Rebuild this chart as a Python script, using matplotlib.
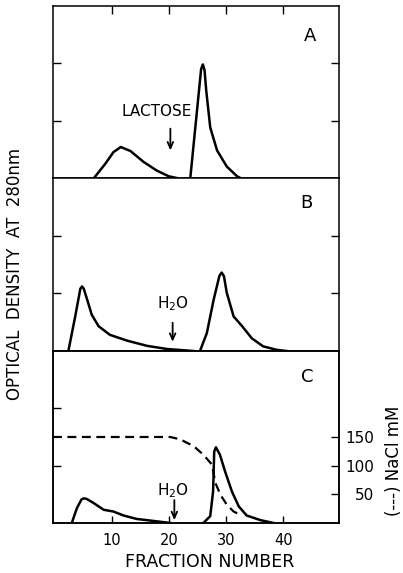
import matplotlib
matplotlib.use('Agg')
import matplotlib.pyplot as plt

plt.rcParams['font.family'] = ['DejaVu Sans']
plt.rcParams['mathtext.default'] = 'regular'

# panel A: lactose elution
a1_x = [6.8, 8.8, 10.2, 11.5, 13.2, 15.5, 17.8, 19.9, 21.3]
a1_y = [0, 0.25, 0.45, 0.54, 0.47, 0.28, 0.13, 0.03, 0]
a2_x = [23.7, 25.6, 25.9, 26.2, 26.5, 27.2, 28.4, 30.1, 31.9, 32.5]
a2_y = [0, 1.9, 1.98, 1.88, 1.52, 0.88, 0.48, 0.2, 0.03, 0]

# panel B: water elution
b1_x = [2.3, 3.5, 4.4, 4.7, 5.0, 5.6, 6.4, 7.6, 9.6, 12.6, 16.1, 19.6, 24.3]
b1_y = [0, 0.6, 1.08, 1.12, 1.08, 0.89, 0.63, 0.43, 0.28, 0.18, 0.09, 0.035, 0]
b2_x = [25.4, 26.6, 27.8, 28.8, 29.2, 29.6, 30.1, 31.3, 32.8, 34.5, 36.5, 38.9, 40.6]
b2_y = [0, 0.31, 0.89, 1.3, 1.36, 1.3, 1.01, 0.6, 0.43, 0.22, 0.08, 0.02, 0]

# panel C: water elution after NaCl
c1_x = [2.9, 3.8, 4.6, 5.0, 5.5, 6.7, 8.5, 10.2, 12.0, 14.3, 17.3, 20.2]
c1_y = [0, 0.26, 0.41, 0.43, 0.42, 0.35, 0.23, 0.2, 0.13, 0.07, 0.035, 0.0]
c2_x = [26.0, 27.2, 27.7, 27.9, 28.2, 28.9, 29.8, 31.0, 32.2, 33.6, 36.0, 38.3]
c2_y = [0, 0.12, 0.55, 1.25, 1.32, 1.19, 0.9, 0.55, 0.29, 0.13, 0.05, 0]
nacl_x = [-0.4, 20.2, 21.9, 24.3, 26.0, 27.5, 28.1, 29.0, 30.1, 31.3, 32.5]
nacl_y = [150, 150, 146, 134, 119, 102, 70, 49, 32, 20, 14]

x_ticks = [10, 20, 30, 40]
nacl_ticks = [50, 100, 150]

fig = plt.figure(figsize=(4.03, 5.73), dpi=100)
left, width = 0.1315, 0.7097
axA = fig.add_axes([left, 0.6894, width, 0.3002])
axB = fig.add_axes([left, 0.3874, width, 0.3020])
axC = fig.add_axes([left, 0.0873, width, 0.3001])

lw = 1.8
for ax in (axA, axB, axC):
    ax.set_xlim(-0.4, 49.8)
    ax.set_ylim(0, 3)
    for s in ax.spines.values():
        s.set_linewidth(1.1)
    ax.set_yticks([1, 2])
    ax.tick_params(axis='y', direction='in', length=6, width=1, left=True,
                   right=True, labelleft=False)
    ax.set_xticks(x_ticks)

axA.tick_params(axis='x', direction='in', length=6, width=1, top=True,
                bottom=False, labelbottom=False)
axB.tick_params(axis='x', bottom=False, labelbottom=False)
axC.tick_params(axis='x', direction='in', length=5, width=1, pad=7,
                labelsize=10.5)
axC.tick_params(axis='y', right=False)

axA.plot(a1_x, a1_y, color='black', lw=lw, solid_joinstyle='round')
axA.plot(a2_x, a2_y, color='black', lw=lw, solid_joinstyle='round')
axB.plot(b1_x, b1_y, color='black', lw=lw, solid_joinstyle='round')
axB.plot(b2_x, b2_y, color='black', lw=lw, solid_joinstyle='round')
axC.plot(c1_x, c1_y, color='black', lw=lw, solid_joinstyle='round')
axC.plot(c2_x, c2_y, color='black', lw=lw, solid_joinstyle='round')

axN = axC.twinx()
axN.set_ylim(0, 300)
axN.set_yticks(nacl_ticks)
axN.tick_params(axis='y', direction='in', length=6, width=1, pad=25,
                labelsize=11)
for lab in axN.get_yticklabels():
    lab.set_ha('right')
axN.plot(nacl_x, nacl_y, color='black', lw=1.6, dashes=(4, 2.5))
for s in axN.spines.values():
    s.set_linewidth(1.1)

axA.text(44.7, 2.47, 'A', fontsize=13, ha='center', va='center')
axB.text(44.0, 2.56, 'B', fontsize=13, ha='center', va='center')
axC.text(44.2, 2.54, 'C', fontsize=13, ha='center', va='center')

arrow = dict(arrowstyle='->,head_length=0.45,head_width=0.2', lw=1.3,
             color='black', shrinkA=0, shrinkB=0)
axA.text(17.8, 1.155, 'LACTOSE', fontsize=11, ha='center', va='center')
axA.annotate('', xy=(20.2, 0.48), xytext=(20.2, 0.86), arrowprops=arrow)
axB.text(20.6, 0.82, 'H$_2$O', fontsize=11, ha='center', va='center')
axB.annotate('', xy=(20.6, 0.16), xytext=(20.6, 0.49), arrowprops=arrow)
axC.text(20.7, 0.56, 'H$_2$O', fontsize=11, ha='center', va='center')
axC.annotate('', xy=(20.9, 0.05), xytext=(20.9, 0.4), arrowprops=arrow)

fig.text(0.521, 0.02, 'FRACTION NUMBER', fontsize=12.5, ha='center',
         va='center')
fig.text(0.037, 0.522, 'OPTICAL  DENSITY  AT  280nm', fontsize=12,
         rotation=90, ha='center', va='center')
fig.text(0.978, 0.195, '(---) NaCl mM', fontsize=12, rotation=90,
         ha='center', va='center')

fig.savefig('out.png', dpi=100)
